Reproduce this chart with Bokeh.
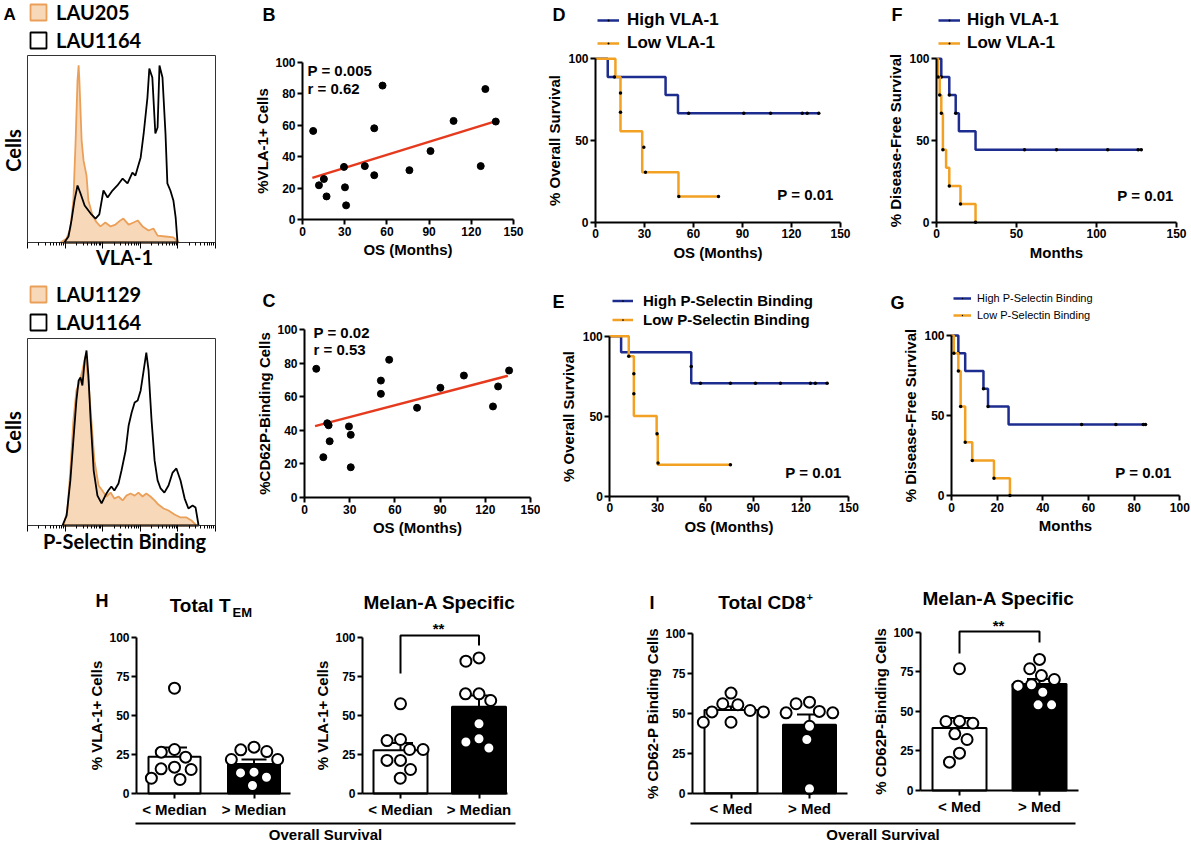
import math
import numpy as np
from bokeh.plotting import figure
from bokeh.layouts import row, column
from bokeh.models import (Range1d, FixedTicker, Label, Legend, LegendItem, LinearAxis, LogAxis,
                          PrintfTickFormatter)
from bokeh.embed import file_html
from bokeh.resources import INLINE

ARIAL = "Liberation Sans"
CALIBRI = "Lato"
BLUE = "#1d2c8f"
ORANGE = "#f2a122"
RED = "#e63a1e"
PEACH_FILL = "#f7d8b9"
PEACH_LINE = "#eba05a"

# ---------------- Panel A: flow histograms (x = log10 fluorescence, y = % of max) ----
VLA1_LAU205_LOG = [0.88, 1.04, 1.14, 1.22, 1.28, 1.33, 1.36, 1.38, 1.44, 1.49, 1.57, 1.62, 1.73, 1.84,
                   1.94, 2.07, 2.21, 2.34, 2.47, 2.55, 2.69, 2.82, 2.93, 3.06, 3.22, 3.35, 3.46, 3.67,
                   3.88, 4.02]
VLA1_LAU205_PCT = [0, 2.1, 7.5, 22.5, 54.5, 86.6, 94.7, 86.6, 54.5, 43.9, 35.8, 22.5, 14.4, 10.7,
                   8.6, 10.7, 8.6, 9.6, 11.8, 12.8, 9.6, 10.7, 11.8, 8.6, 6.4, 7.5, 3.7, 3.2, 2.7, 0]
VLA1_LAU1164_LOG = [0.98, 1.09, 1.17, 1.25, 1.33, 1.41, 1.52, 1.68, 1.81, 1.91, 2.02, 2.13, 2.26,
                    2.39, 2.53, 2.66, 2.79, 2.87, 3.01, 3.09, 3.19, 3.24, 3.32, 3.40, 3.46, 3.51,
                    3.59, 3.67, 3.72, 3.80, 3.88, 3.94, 3.99]
VLA1_LAU1164_PCT = [0, 3.2, 11.8, 22.5, 30.5, 26.2, 19.8, 15.5, 12.8, 15.0, 27.8, 24.1, 27.8, 30.5,
                    34.2, 31.6, 37.4, 35.8, 45.5, 58.3, 77.5, 93.0, 88.2, 58.3, 61.5, 94.7, 88.2,
                    58.3, 31.6, 27.8, 22.5, 13.4, 0]
PSEL_LAU1129_LOG = [0.96, 1.06, 1.14, 1.22, 1.30, 1.38, 1.46, 1.54, 1.62, 1.70, 1.78, 1.89, 1.99,
                    2.10, 2.21, 2.31, 2.42, 2.53, 2.63, 2.74, 2.85, 2.95, 3.06, 3.16, 3.27, 3.38,
                    3.48, 3.62, 3.75, 3.91, 4.07, 4.23, 4.36, 4.49]
PSEL_LAU1129_PCT = [0, 8.0, 29.4, 56.1, 72.2, 76.5, 82.9, 90.4, 77.5, 56.1, 34.8, 21.4, 18.7, 15.5,
                    17.6, 14.4, 15.5, 13.4, 16.0, 17.1, 16.0, 17.6, 15.5, 17.1, 15.5, 13.4, 11.2,
                    9.1, 8.0, 5.9, 4.3, 4.3, 2.7, 0]
PSEL_LAU1164_LOG = [0.93, 1.04, 1.14, 1.22, 1.30, 1.36, 1.41, 1.46, 1.52, 1.57, 1.62, 1.68, 1.76,
                    1.86, 1.97, 2.07, 2.15, 2.23, 2.31, 2.42, 2.50, 2.61, 2.69, 2.77, 2.85, 2.93,
                    3.01, 3.09, 3.16, 3.22, 3.30, 3.38, 3.46, 3.54, 3.64, 3.75, 3.86, 3.96, 4.07,
                    4.18, 4.28, 4.39, 4.47, 4.55]
PSEL_LAU1164_PCT = [0, 5.3, 24.1, 45.5, 66.8, 77.5, 79.1, 74.9, 88.2, 93.6, 80.2, 56.1, 29.4, 16.0,
                    11.8, 16.0, 18.7, 20.9, 18.7, 22.5, 29.4, 40.1, 53.5, 60.4, 65.8, 66.8, 72.2,
                    82.9, 92.5, 82.9, 56.1, 34.8, 24.1, 19.8, 17.6, 21.4, 28.3, 30.5, 24.1, 14.4,
                    9.1, 10.7, 9.6, 0]

# ---------------- Panels B, C: correlation with OS ----------------
B_OS = [7.6, 11.7, 15.2, 17.1, 29.5, 30.2, 31.0, 44.3, 51.0, 51.0, 56.9, 76.0, 91.0, 107.4, 126.7, 130.0, 137.4]
B_VLA1 = [56.4, 21.8, 25.8, 14.7, 33.5, 20.5, 9.0, 34.0, 58.1, 28.2, 85.3, 31.4, 43.6, 62.8, 34.0, 83.1, 62.4]
B_FIT_OS = [7, 137]
B_FIT_PCT = [26.5, 62.5]
C_OS = [7.8, 12.5, 15.1, 16.0, 16.7, 29.5, 30.7, 30.7, 50.7, 50.7, 56.2, 74.7, 90.2, 105.8, 125.1, 128.5, 135.8]
C_CD62P = [76.6, 24.0, 44.2, 43.0, 33.5, 42.3, 37.3, 18.0, 69.6, 61.7, 82.0, 53.4, 65.3, 72.6, 54.2, 66.1, 75.6]
C_FIT_OS = [7, 135]
C_FIT_PCT = [42.5, 72.5]

# ---------------- Panels D-G: Kaplan-Meier curves ----------------
D_HIGH_T = [0, 7.5, 42.9, 50.5, 137]
D_HIGH_S = [100, 88.9, 77.8, 66.7, 66.7]
D_HIGH_MARK_T = [57.0, 90.8, 107.2, 126.6, 129.6, 136.7]
D_HIGH_MARK_S = [66.7, 66.7, 66.7, 66.7, 66.7, 66.7]
D_LOW_T = [0, 12.2, 15.3, 28.6, 50.8, 75.3]
D_LOW_S = [100, 88.9, 55.6, 30.6, 15.7, 15.7]
D_LOW_MARK_T = [11.6, 15.3, 15.3, 29.6, 30.6, 51.0, 75.3]
D_LOW_MARK_S = [88.9, 79.0, 67.3, 45.9, 30.6, 15.7, 15.7]

E_HIGH_T = [0, 7.1, 51.1, 136.4]
E_HIGH_S = [100, 90.0, 70.5, 70.5]
E_HIGH_MARK_T = [51.1, 56.9, 75.7, 91.4, 107.1, 125.9, 129.0, 136.4]
E_HIGH_MARK_S = [81.0, 70.5, 70.5, 70.5, 70.5, 70.5, 70.5, 70.5]
E_LOW_T = [0, 11.9, 15.1, 29.4, 30.1, 75.7]
E_LOW_S = [100, 87.5, 50.0, 38.0, 19.5, 19.5]
E_LOW_MARK_T = [11.9, 15.1, 15.1, 29.7, 30.3, 75.7]
E_LOW_MARK_S = [87.5, 76.5, 64.0, 38.9, 20.7, 19.5]

F_HIGH_T = [0, 3, 8, 12, 14, 24.4, 128]
F_HIGH_S = [100, 88.9, 77.8, 66.7, 55.6, 44.4, 44.4]
F_HIGH_MARK_T = [3, 8, 12, 55, 75, 107, 126, 128]
F_HIGH_MARK_S = [88.9, 77.8, 66.7, 44.4, 44.4, 44.4, 44.4, 44.4]
F_LOW_T = [0, 1, 2, 3, 4, 6, 8, 15, 24.4]
F_LOW_S = [100, 88.9, 77.8, 66.7, 44.4, 33.3, 22.2, 11.1, 0]
F_LOW_MARK_T = [1, 2, 3, 4, 8, 15, 24.4]
F_LOW_MARK_S = [88.9, 77.8, 66.7, 44.4, 22.2, 11.1, 0]

G_HIGH_T = [0, 3, 6, 14, 16, 25, 85]
G_HIGH_S = [100, 88.9, 77.8, 66.7, 55.6, 44.4, 44.4]
G_HIGH_MARK_T = [3, 14, 16, 57, 72, 84, 85]
G_HIGH_MARK_S = [88.9, 66.7, 55.6, 44.4, 44.4, 44.4, 44.4]
G_LOW_T = [0, 1, 3, 4, 6, 9.1, 18.6, 25.6]
G_LOW_S = [100, 88.9, 77.8, 55.6, 33.3, 21.9, 10.8, 0]
G_LOW_MARK_T = [1, 3, 4, 6, 9.1, 18.6, 25.6]
G_LOW_MARK_S = [88.9, 77.8, 55.6, 33.3, 21.9, 10.8, 0]

# ---------------- Panels H, I: bar + scatter ----------------
GROUPS_H = ["< Median", "> Median"]
GROUPS_I = ["< Med", "> Med"]
H_TEM_LOW = [67.5, 28.2, 26.5, 23.3, 16.9, 15.8, 15.4, 9.8, 9.0]
H_TEM_HIGH = [29.7, 28.0, 26.9, 21.8, 21.8, 13.7, 13.2, 10.4, 5.1]
H_MELAN_LOW = [57.5, 34.6, 33.9, 28.2, 28.2, 21.2, 21.2, 15.4, 9.8]
H_MELAN_HIGH = [86.9, 84.8, 63.9, 63.9, 59.6, 44.7, 35.1, 33.0, 29.2]
I_CD8_LOW = [62.8, 56.1, 55.5, 51.9, 51.0, 51.0, 44.5, 44.5]
I_CD8_HIGH = [57.1, 56.1, 51.3, 50.4, 50.4, 42.0, 33.7, 2.8]
I_MELAN_LOW = [76.9, 43.8, 43.6, 42.5, 35.8, 32.2, 23.6, 17.9]
I_MELAN_HIGH = [82.8, 76.9, 72.6, 70.1, 66.8, 65.9, 62.1, 54.1, 54.1]


# ======================= helpers =======================
def panel(left, top, w, h, xcal, ycal, log_x=False):
    """Figure whose plotting frame fills the whole canvas; axes are pinned with fixed_location."""
    def inv(cal, px):
        v0, p0, v1, p1 = cal
        return v0 + (px - p0) * (v1 - v0) / (p1 - p0)
    x0, x1 = inv(xcal, left), inv(xcal, left + w)
    y0, y1 = inv(ycal, top + h), inv(ycal, top)
    if log_x:
        x0, x1 = 10 ** x0, 10 ** x1
    p = figure(width=w, height=h, x_range=Range1d(x0, x1), y_range=Range1d(y0, y1),
               x_axis_type='log' if log_x else 'linear',
               output_backend='svg', toolbar_location=None, min_border=0,
               min_border_left=0, min_border_right=0, min_border_top=0, min_border_bottom=0)
    p.grid.visible = False
    p.outline_line_color = None
    p.background_fill_color = 'white'
    p.border_fill_color = 'white'
    spec = dict(fl=left, fb=top + h,
                xpx=abs((xcal[3] - xcal[1]) / (xcal[2] - xcal[0])),
                ypx=abs((ycal[3] - ycal[1]) / (ycal[2] - ycal[0])),
                xd=lambda px: inv(xcal, px), yd=lambda px: inv(ycal, px))
    return p, spec


def txt(p, s, rx, ry, text, size, align='left', font=ARIAL, style='bold', angle=0.0, baseline='middle'):
    p.add_layout(Label(x=rx - s['fl'], y=s['fb'] - ry, x_units='screen', y_units='screen',
                       text=text, text_font=font, text_font_size=f'{size}px', text_font_style=style,
                       text_align=align, text_baseline=baseline, text_color='black', angle=angle))


def style_axis(ax, tick=12, lab=15):
    ax.axis_line_width = 2
    ax.axis_line_color = 'black'
    ax.major_tick_line_width = 2
    ax.major_tick_line_color = 'black'
    ax.major_tick_in = 0
    ax.major_tick_out = 5
    ax.minor_tick_line_color = None
    ax.major_label_text_font = ARIAL
    ax.major_label_text_font_style = 'bold'
    ax.major_label_text_font_size = f'{tick}px'
    ax.major_label_text_color = 'black'
    ax.major_label_standoff = 2
    ax.axis_label_text_font = ARIAL
    ax.axis_label_text_font_style = 'bold'
    ax.axis_label_text_font_size = f'{lab}px'
    ax.axis_label_text_color = 'black'


def axes(p, xticks, yticks, xlabel, ylabel, xloc, yloc, xb, yb, tick=12, lab=15, xs=2, ys=1):
    xa, ya = p.xaxis[0], p.yaxis[0]
    style_axis(xa, tick, lab)
    style_axis(ya, tick, lab)
    xa.ticker = FixedTicker(ticks=xticks)
    ya.ticker = FixedTicker(ticks=yticks)
    if xlabel:
        xa.axis_label = xlabel
    if ylabel:
        ya.axis_label = ylabel
    xa.axis_label_standoff = xs
    ya.axis_label_standoff = ys
    xa.fixed_location = yloc
    ya.fixed_location = xloc
    xa.bounds = xb
    ya.bounds = yb


def legend(p, s, items, left_ref, bottom_ref, size, style='bold', font=ARIAL,
           gw=22, gh=20, lh=20, spacing=3, standoff=8):
    lg = Legend(items=items, location=(left_ref - s['fl'], s['fb'] - bottom_ref),
                orientation='vertical', border_line_color=None, background_fill_alpha=0,
                padding=0, margin=0, spacing=spacing, glyph_width=gw, glyph_height=gh,
                label_height=lh, label_standoff=standoff, label_text_font=font,
                label_text_font_size=f'{size}px', label_text_font_style=style,
                label_text_color='black')
    p.add_layout(lg)


def km(p, t, sv, mt, ms, color):
    r = p.step(t, sv, mode='after', line_color=color, line_width=2.5)
    d = p.scatter(mt, ms, marker='dot', size=14, color='black')
    return r, d


def km_panel(left, top, w, h, xcal, ycal, xmax, xticks, xlabel, ylabel, high, low):
    p, s = panel(left, top, w, h, xcal, ycal)
    hr = km(p, *high, BLUE)
    lr = km(p, *low, ORANGE)
    axes(p, xticks, [0, 50, 100], xlabel, ylabel, 0, 0, (0, xmax), (0, 100), ys=2)
    return p, s, hr, lr


def swarm(vals, xpx, ypx, d=13.5):
    order = sorted(range(len(vals)), key=lambda i: -vals[i])
    placed = []
    offs = [0.0] * len(vals)
    for i in order:
        y = vals[i] * ypx
        cands = [0.0]
        for (px, py) in placed:
            dy = abs(py - y)
            if dy < d:
                dx = math.sqrt(d * d - dy * dy)
                cands += [px + dx, px - dx]
        cands.sort(key=lambda c: (round(abs(c), 6), c))
        for c in cands:
            if all((c - px) ** 2 + (y - py) ** 2 >= d * d - 1e-6 for px, py in placed):
                offs[i] = c
                break
        placed.append((offs[i], y))
    return [o / xpx for o in offs]


def bar_panel(left, top, w, h, xcal, ycal, frame_l, frame_r, low, high, labels, width_px, ylabel):
    p, s = panel(left, top, w, h, xcal, ycal)
    xs = [1, 2]
    groups = [low, high]
    means = [float(np.mean(g)) for g in groups]
    sems = [float(np.std(g, ddof=1) / np.sqrt(len(g))) for g in groups]
    tops = [m + e for m, e in zip(means, sems)]
    p.vbar(x=xs, top=means, width=width_px / s['xpx'], fill_color=['white', 'black'],
           line_color='black', line_width=2)
    cap = 12.5 / s['xpx']
    p.segment(x0=xs, y0=means, x1=xs, y1=tops, line_color='black', line_width=2)
    p.segment(x0=[x - cap for x in xs], y0=tops, x1=[x + cap for x in xs], y1=tops,
              line_color='black', line_width=2)
    for xi, g in zip(xs, groups):
        offs = swarm(g, s['xpx'], s['ypx'])
        p.scatter([xi + o for o in offs], g, size=11, fill_color='white',
                  line_color='black', line_width=2)
    xl, xr = s['xd'](frame_l), s['xd'](frame_r)
    axes(p, xs, [0, 25, 50, 75, 100], None, ylabel, xl, 0, (xl, xr), (0, 100), tick=12, lab=15, ys=1)
    p.xaxis[0].major_label_overrides = {1: labels[0], 2: labels[1]}
    p.xaxis[0].major_label_text_font_size = '15px'
    p.xaxis[0].major_label_standoff = 2
    return p, s


def histo(top, h, ycal, olog, opct, blog, bpct, names, xlabel, xlabel_y, leg_bottom, cells_y):
    p, s = panel(0, top, 223, h, (0, 27, 5, 215), ycal, log_x=True)
    o = p.patch([10 ** v for v in olog], opct, fill_color=PEACH_FILL, line_color=PEACH_LINE, line_width=1.8)
    b = p.patch([10 ** v for v in blog], bpct, fill_color=None, line_color='black', line_width=1.8)
    box = '#333333'
    xa = p.xaxis[0]
    xa.fixed_location = 0
    xa.bounds = (1, 1e5)
    xa.axis_line_color = box
    xa.axis_line_width = 1
    xa.major_tick_in = 0
    xa.major_tick_out = 6
    xa.minor_tick_in = 0
    xa.minor_tick_out = 3
    xa.major_tick_line_color = 'black'
    xa.minor_tick_line_color = 'black'
    xa.formatter = PrintfTickFormatter(format='%d')
    xa.major_label_text_font_size = '1px'
    xa.major_label_text_alpha = 0
    ya = p.yaxis[0]
    ya.fixed_location = 1
    ya.bounds = (0, 100)
    ya.ticker = FixedTicker(ticks=[])
    ya.axis_line_color = box
    ya.axis_line_width = 1
    ya.major_tick_line_color = None
    ya.minor_tick_line_color = None
    top_ax = LogAxis(fixed_location=100, bounds=(1, 1e5), ticker=FixedTicker(ticks=[]),
                     axis_line_color=box, axis_line_width=1, major_tick_line_color=None,
                     minor_tick_line_color=None)
    right_ax = LinearAxis(fixed_location=1e5, bounds=(0, 100), ticker=FixedTicker(ticks=[]),
                          axis_line_color=box, axis_line_width=1, major_tick_line_color=None,
                          minor_tick_line_color=None)
    p.add_layout(top_ax, 'above')
    p.add_layout(right_ax, 'right')
    legend(p, s, [LegendItem(label=names[0], renderers=[o]), LegendItem(label=names[1], renderers=[b])],
           28, leg_bottom, 20, font=CALIBRI, gw=20, gh=20, lh=24, spacing=4, standoff=8)
    txt(p, s, 12, cells_y, 'Cells', 20, align='center', font=CALIBRI, angle=math.pi / 2)
    txt(p, s, 124, xlabel_y, xlabel, 20, align='center', font=CALIBRI)
    return p, s


# ======================= Row 1 (y 0-280) =======================
pa1, sa1 = histo(0, 280, (0, 242, 100, 55), VLA1_LAU205_LOG, VLA1_LAU205_PCT,
                 VLA1_LAU1164_LOG, VLA1_LAU1164_PCT, ['LAU205', 'LAU1164'], 'VLA-1', 256, 52, 150)
txt(pa1, sa1, 3, 14, 'A', 17)

pb, sb = panel(223, 0, 317, 280, (0, 302, 150, 513), (0, 219, 100, 62))
pb.line(B_FIT_OS, B_FIT_PCT, line_color=RED, line_width=2.5)
pb.scatter(B_OS, B_VLA1, size=7, color='black')
axes(pb, [0, 30, 60, 90, 120, 150], [0, 20, 40, 60, 80, 100], 'OS (Months)', '%VLA-1+ Cells',
     0, 0, (0, 150), (0, 100))
txt(pb, sb, 262, 14, 'B', 18)
txt(pb, sb, 307, 70, 'P = 0.005', 15)
txt(pb, sb, 307, 88, 'r = 0.62', 15)

pd, sd, dh, dl = km_panel(540, 0, 340, 280, (0, 595, 150, 840), (0, 221.7, 100, 58.3), 150,
                          [0, 30, 60, 90, 120, 150], 'OS (Months)', '% Overall Survival',
                          (D_HIGH_T, D_HIGH_S, D_HIGH_MARK_T, D_HIGH_MARK_S),
                          (D_LOW_T, D_LOW_S, D_LOW_MARK_T, D_LOW_MARK_S))
legend(pd, sd, [LegendItem(label='High VLA-1', renderers=list(dh)),
                LegendItem(label='Low VLA-1', renderers=list(dl))], 597, 53, 17, standoff=8)
txt(pd, sd, 552, 14, 'D', 18)
txt(pd, sd, 805, 194, 'P = 0.01', 15, align='center')

pf, sf, fh, fl_ = km_panel(880, 0, 311, 280, (0, 936, 150, 1176), (0, 221.7, 100, 58.3), 150,
                           [0, 50, 100, 150], 'Months', '% Disease-Free Survival',
                           (F_HIGH_T, F_HIGH_S, F_HIGH_MARK_T, F_HIGH_MARK_S),
                           (F_LOW_T, F_LOW_S, F_LOW_MARK_T, F_LOW_MARK_S))
legend(pf, sf, [LegendItem(label='High VLA-1', renderers=list(fh)),
                LegendItem(label='Low VLA-1', renderers=list(fl_))], 938, 53, 17, standoff=7)
txt(pf, sf, 891, 14, 'F', 18)
txt(pf, sf, 1145, 195, 'P = 0.01', 15, align='center')

# ======================= Row 2 (y 280-555) =======================
pa2, sa2 = histo(280, 275, (0, 525, 100, 338), PSEL_LAU1129_LOG, PSEL_LAU1129_PCT,
                 PSEL_LAU1164_LOG, PSEL_LAU1164_PCT, ['LAU1129', 'LAU1164'], 'P-Selectin Binding',
                 540, 334, 432)

pc, sc = panel(223, 280, 317, 275, (0, 304, 150, 530), (0, 497, 100, 329))
pc.line(C_FIT_OS, C_FIT_PCT, line_color=RED, line_width=2.5)
pc.scatter(C_OS, C_CD62P, size=7, color='black')
axes(pc, [0, 30, 60, 90, 120, 150], [0, 20, 40, 60, 80, 100], 'OS (Months)', '%CD62P-Binding Cells',
     0, 0, (0, 150), (0, 100))
txt(pc, sc, 262, 300, 'C', 18)
txt(pc, sc, 313, 332, 'P = 0.02', 15)
txt(pc, sc, 313, 349, 'r = 0.53', 15)

pe, se, eh, el = km_panel(540, 280, 340, 275, (0, 609.3, 150, 848.3), (0, 495.5, 100, 335.7), 150,
                          [0, 30, 60, 90, 120, 150], 'OS (Months)', '% Overall Survival',
                          (E_HIGH_T, E_HIGH_S, E_HIGH_MARK_T, E_HIGH_MARK_S),
                          (E_LOW_T, E_LOW_S, E_LOW_MARK_T, E_LOW_MARK_S))
legend(pe, se, [LegendItem(label='High P-Selectin Binding', renderers=list(eh)),
                LegendItem(label='Low P-Selectin Binding', renderers=list(el))], 612, 328, 15,
       gw=21, gh=17, lh=17, spacing=2, standoff=10)
txt(pe, se, 552, 301, 'E', 18)
txt(pe, se, 813, 472, 'P = 0.01', 15, align='center')

pg, sg, gh, gl = km_panel(880, 280, 311, 275, (0, 951, 100, 1179.3), (0, 495, 100, 335), 100,
                          [0, 20, 40, 60, 80, 100], 'Months', '% Disease-Free Survival',
                          (G_HIGH_T, G_HIGH_S, G_HIGH_MARK_T, G_HIGH_MARK_S),
                          (G_LOW_T, G_LOW_S, G_LOW_MARK_T, G_LOW_MARK_S))
legend(pg, sg, [LegendItem(label='High P-Selectin Binding', renderers=list(gh)),
                LegendItem(label='Low P-Selectin Binding', renderers=list(gl))], 953, 322, 11,
       style='normal', gw=18, gh=14, lh=14, spacing=3, standoff=6)
txt(pg, sg, 890, 302, 'G', 18)
txt(pg, sg, 1143, 472, 'P = 0.01', 15, align='center')

# ======================= Row 3 (y 555-818) =======================
ph1, sh1 = bar_panel(0, 555, 300, 263, (1, 174, 2, 253.5), (0, 793, 100, 637), 136, 290,
                     H_TEM_LOW, H_TEM_HIGH, GROUPS_H, 52, '% VLA-1+ Cells')
txt(ph1, sh1, 95, 600, 'H', 18)
txt(ph1, sh1, 230, 605, 'Total T', 19, align='right')
txt(ph1, sh1, 232, 612, 'EM', 13)

ph2, sh2 = bar_panel(300, 555, 260, 263, (1, 400, 2, 478.5), (0, 793, 100, 637), 362, 507,
                     H_MELAN_LOW, H_MELAN_HIGH, GROUPS_H, 54, '% VLA-1+ Cells')
ph2.line([1, 1, 2, 2], [76.9, 101.3, 101.3, 94.9], line_color='black', line_width=2)
txt(ph2, sh2, 439, 602, 'Melan-A Specific', 19, align='center')
txt(ph2, sh2, 438, 628, '**', 15, align='center')

pi1, si1 = bar_panel(560, 555, 310, 263, (1, 730.5, 2, 809), (0, 792.7, 100, 633.3), 692, 847,
                     I_CD8_LOW, I_CD8_HIGH, GROUPS_I, 53, '% CD62-P Binding Cells')
txt(pi1, si1, 649, 602, 'I', 18)
txt(pi1, si1, 805, 602, 'Total CD8', 19, align='right')
txt(pi1, si1, 806, 596, '+', 11)

pi2, si2 = bar_panel(870, 555, 321, 263, (1, 959, 2, 1039), (0, 790, 100, 631.7), 920, 1078,
                     I_MELAN_LOW, I_MELAN_HIGH, GROUPS_I, 54, '% CD62P-Binding Cells')
pi2.line([1, 1, 2, 2], [86.5, 100.4, 100.4, 93.5], line_color='black', line_width=2)
txt(pi2, si2, 998, 598, 'Melan-A Specific', 19, align='center')
txt(pi2, si2, 998, 625, '**', 15, align='center')

# ======================= Row 4 (y 818-844): "Overall Survival" spans =======================
pos, sos = panel(0, 818, 1191, 26, (0, 0, 1191, 1191), (0, 844, 26, 818))
pos.yaxis.visible = False
spans = [(135, 515), (690, 1075)]
first = pos.xaxis[0]
extra = LinearAxis()
pos.add_layout(extra, 'below')
for ax, bnd in zip([first, extra], spans):
    ax.ticker = FixedTicker(ticks=[])
    ax.fixed_location = 21
    ax.bounds = bnd
    ax.axis_line_width = 2
    ax.axis_line_color = 'black'
    ax.major_tick_line_color = None
    ax.minor_tick_line_color = None
    ax.axis_label = 'Overall Survival'
    ax.axis_label_text_font = ARIAL
    ax.axis_label_text_font_style = 'bold'
    ax.axis_label_text_font_size = '15px'
    ax.axis_label_text_color = 'black'
    ax.axis_label_standoff = 2

layout = column(
    row(pa1, pb, pd, pf),
    row(pa2, pc, pe, pg),
    row(ph1, ph2, pi1, pi2),
    pos,
)

with open("out.html", "w") as f:
    f.write(file_html(layout, INLINE))
